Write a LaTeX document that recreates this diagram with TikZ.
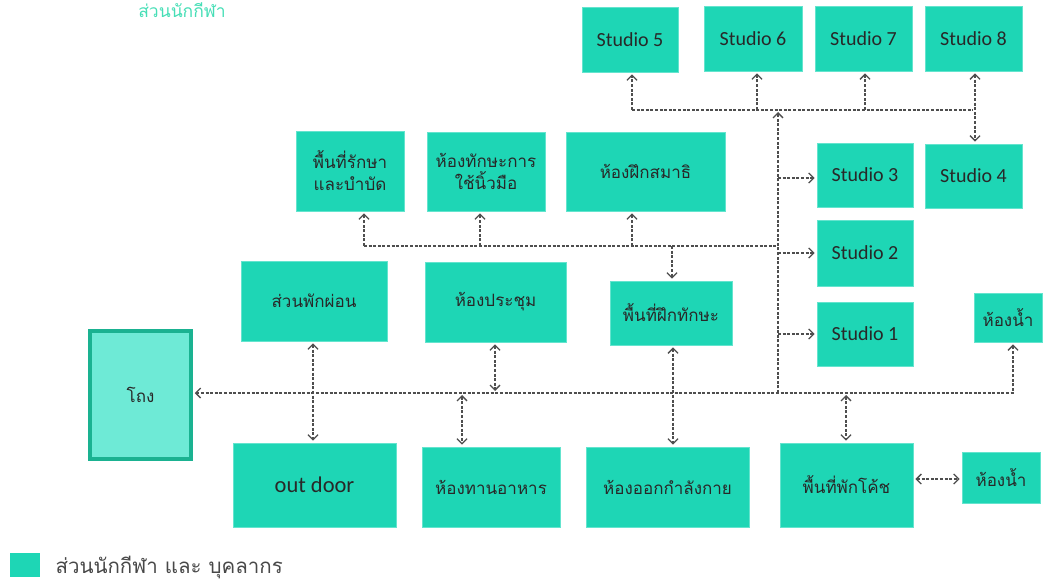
\documentclass[tikz,border=0pt]{standalone}
\usepackage{fontspec}
\setmainfont{Carlito}
\newfontfamily\thaifont[Script=Thai]{Loma}
\usetikzlibrary{arrows.meta}

\definecolor{boxfill}{RGB}{30,214,181}
\definecolor{boxline}{RGB}{100,228,206}
\definecolor{hallfill}{RGB}{110,234,214}
\definecolor{hallline}{RGB}{26,178,145}
\definecolor{lnk}{RGB}{78,78,78}
\definecolor{txt}{RGB}{40,40,40}
\definecolor{titlecol}{RGB}{70,222,182}

\tikzset{
  room/.style={draw=boxline, fill=boxfill, line width=0.8pt, inner sep=1pt,
               align=center, text=txt},
  sz/.style 2 args={minimum width=#1pt, minimum height=#2pt},
  th/.style={font=\thaifont\fontsize{17}{22}\selectfont},
  en/.style={font=\fontsize{20}{24}\selectfont},
  link/.style={draw=lnk, line width=1.3pt, dash pattern=on 3pt off 1.6pt,
               >={Straight Barb[length=5pt,width=10pt]}, shorten >=2pt},
  both/.style={link, <->, shorten <=2pt},
}

\begin{document}
\begin{tikzpicture}[x=1pt, y=-1pt]
\useasboundingbox (0,0) rectangle (1043,580);

% caption at the top
\node[text=titlecol, font=\thaifont\fontsize{17.5}{20}\selectfont] (title) at (182,10) {ส่วนนักกีฬา};

% studios
\node[room, en, sz={96}{65}] (s5) at (630,39.5) {Studio 5};
\node[room, en, sz={98}{65}] (s6) at (753,38.5) {Studio 6};
\node[room, en, sz={97}{65}] (s7) at (863.5,38.5) {Studio 7};
\node[room, en, sz={97}{65}] (s8) at (973.5,38.5) {Studio 8};
\node[room, en, sz={96}{64}] (s3) at (865,175) {Studio 3};
\node[room, en, sz={97}{64}] (s4) at (973.5,176) {Studio 4};
\node[room, en, sz={96}{66}] (s2) at (865,253) {Studio 2};
\node[room, en, sz={96}{64}] (s1) at (865,334) {Studio 1};
\node[room, th, sz={68}{49}] (wc1) at (1008,317.5) {ห้องน้ำ};

% upper row of rooms
\node[room, th, sz={108}{80}] (treat) at (350,171) {พื้นที่รักษา\\และบำบัด};
\node[room, th, sz={118}{79}] (finger) at (486,171.5) {ห้องทักษะการ\\ใช้นิ้วมือ};
\node[room, th, sz={159}{79}] (medit) at (645.5,171.5) {ห้องฝึกสมาธิ};

% middle row
\node[room, th, sz={146}{80}] (rest) at (314,301) {ส่วนพักผ่อน};
\node[room, th, sz={141}{80}] (meet) at (495.5,302) {ห้องประชุม};
\node[room, th, sz={122}{64}] (skill) at (671,313) {พื้นที่ฝึกทักษะ};

% hall
\node[draw=hallline, fill=hallfill, line width=3.5pt, th, text=txt,
      minimum width=101pt, minimum height=128pt] (hall) at (140.5,395) {โถง};

% lower row
\node[room, sz={163}{84}, font=\fontsize{22.5}{26}\selectfont] (outdoor) at (314.5,485) {out door};
\node[room, th, sz={138}{80}] (dine) at (491,487) {ห้องทานอาหาร};
\node[room, th, sz={163}{80}] (gym) at (667.5,487) {ห้องออกกำลังกาย};
\node[room, th, sz={133}{84}] (coach) at (846.5,485) {พื้นที่พักโค้ช};
\node[room, th, sz={78}{51}] (wc2) at (1001,477.5) {ห้องน้ำ};

% legend
\node[fill=boxfill, minimum width=30pt, minimum height=24pt, inner sep=0pt] (key) at (25,565) {};
\node[anchor=west, text=txt!85, font=\thaifont\fontsize{20.5}{24}\selectfont] (keytext) at (52,567) {ส่วนนักกีฬา และ บุคลากร};

% junction points of the corridors
\coordinate (mR) at (1013,393);
\coordinate (tB) at (778,393);
\coordinate (tT) at (778,110);
\coordinate (a5) at (632,110);
\coordinate (a6) at (757,110);
\coordinate (a7) at (865,110);
\coordinate (a8) at (975,110);
\coordinate (b3) at (778,178);
\coordinate (b2) at (778,253);
\coordinate (b1) at (778,334);
\coordinate (c1) at (364,246);
\coordinate (c2) at (480,246);
\coordinate (c3) at (632,246);
\coordinate (c4) at (672,246);
\coordinate (c5) at (778,246);
\coordinate (d1) at (313,393);
\coordinate (d2) at (495,393);
\coordinate (d3) at (462,393);
\coordinate (d4) at (673,393);
\coordinate (d5) at (846,393);
\coordinate (e1) at (0,479);

% main corridor
\draw[both] (mR -| hall.east) -- (mR) -- (mR |- wc1.south);
\draw[link, ->] (tB) -- (tT);

% studio branches
\draw[link] (a5) -- (a8);
\draw[link, ->] (a5) -- (a5 |- s5.south);
\draw[link, ->] (a6) -- (a6 |- s6.south);
\draw[link, ->] (a7) -- (a7 |- s7.south);
\draw[both] (a8 |- s8.south) -- (a8 |- s4.north);
\draw[link, ->] (b3) -- (b3 -| s3.west);
\draw[link, ->] (b2) -- (b2 -| s2.west);
\draw[link, ->] (b1) -- (b1 -| s1.west);

% upper rooms branch
\draw[link] (c1) -- (c5);
\draw[link, ->] (c1) -- (c1 |- treat.south);
\draw[link, ->] (c2) -- (c2 |- finger.south);
\draw[link, ->] (c3) -- (c3 |- medit.south);
\draw[link, ->] (c4) -- (c4 |- skill.north);

% rooms along the corridor
\draw[both] (d1 |- rest.south) -- (d1 |- outdoor.north);
\draw[both] (d2 |- meet.south) -- (d2);
\draw[both] (d3) -- (d3 |- dine.north);
\draw[both] (d4 |- skill.south) -- (d4 |- gym.north);
\draw[both] (d5) -- (d5 |- coach.north);
\draw[both] (e1 -| coach.east) -- (e1 -| wc2.west);
\end{tikzpicture}
\end{document}
